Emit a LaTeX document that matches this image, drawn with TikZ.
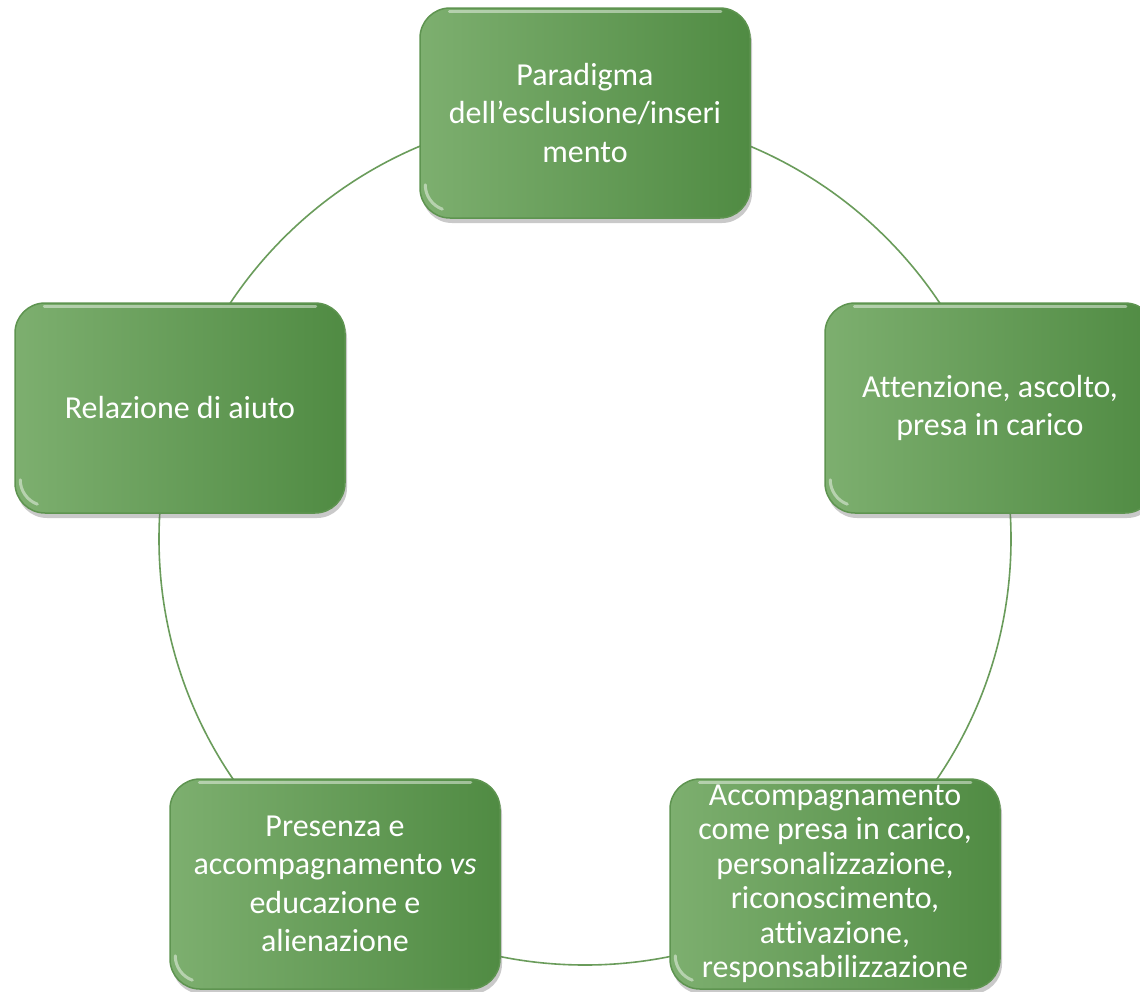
\documentclass[tikz,border=0pt]{standalone}
\usepackage{fontspec}
\setmainfont{Carlito}[Ligatures=NoCommon]
\usetikzlibrary{shadows}
\definecolor{ringgreen}{HTML}{6A9C5B}
\definecolor{lightg}{HTML}{7DAF6F}
\definecolor{darkg}{HTML}{508B43}
\definecolor{edgeg}{HTML}{5E9450}
\tikzset{
  card/.style={rectangle, rounded corners=30pt, minimum width=330pt, minimum height=210pt,
    left color=lightg, right color=darkg, draw=edgeg, line width=1.5pt,
    drop shadow={shadow xshift=2pt, shadow yshift=-5pt, opacity=0.35, fill=black!60},
    text=white, align=center, font=\fontsize{32}{38.5}\selectfont, inner sep=0pt},
  ring/.style={draw=ringgreen, line width=1.6pt},
  gloss/.style={draw=white, line width=3pt, opacity=0.45, line cap=round}
}
\begin{document}
\begin{tikzpicture}[x=1pt,y=-1pt]
\useasboundingbox[fill=white] (0,0) rectangle (1140,991);
\coordinate (c) at (585,539);
\draw[ring] (c) circle (426pt);
\node[card] (top) at (585,113) {Paradigma\\dell’esclusione/inseri\\mento};
\node[card] (left) at (180,408) {Relazione di aiuto};
\node[card] (right) at (990,408) {Attenzione, ascolto,\\presa in carico};
\node[card] (bl) at (335,884) {Presenza e\\accompagnamento \textit{vs}\\educazione e\\alienazione};
\node[card, font=\fontsize{32}{34.5}\selectfont] (br) at (835,884) {Accompagnamento\\come presa in carico,\\personalizzazione,\\riconoscimento,\\attivazione,\\responsabilizzazione};
\foreach \n in {top,left,right,bl,br}{
  \draw[gloss] ([xshift=30pt,yshift=-4pt]\n.north west) -- ([xshift=-30pt,yshift=-4pt]\n.north east);
  \draw[gloss] ([xshift=6pt,yshift=34pt]\n.south west) arc[start angle=180,end angle=250,radius=26pt];
}
\end{tikzpicture}
\end{document}
